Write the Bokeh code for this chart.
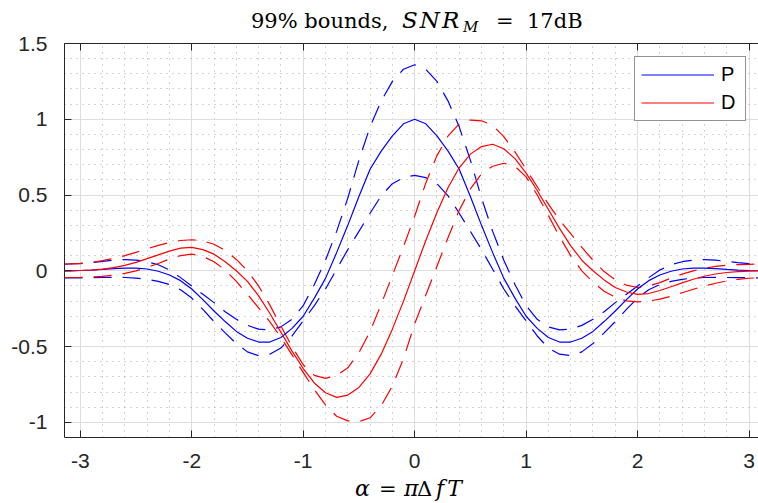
from bokeh.plotting import figure
from bokeh.models import Range1d, FixedTicker, LinearAxis, Legend, LegendItem, Div
from bokeh.layouts import column
from bokeh.embed import file_html
from bokeh.resources import INLINE

# ---- data ----
alpha = [-3.14, -3.1, -3.0, -2.9, -2.8, -2.7, -2.6, -2.5, -2.4, -2.3, -2.2, -2.1, -2.0,
         -1.9, -1.8, -1.7, -1.6, -1.5, -1.4, -1.3, -1.2, -1.1, -1.0, -0.9, -0.8, -0.7,
         -0.6, -0.5, -0.4, -0.3, -0.2, -0.1, 0.0, 0.1, 0.2, 0.3, 0.4, 0.5, 0.6, 0.7,
         0.8, 0.9, 1.0, 1.1, 1.2, 1.3, 1.4, 1.5, 1.6, 1.7, 1.8, 1.9, 2.0, 2.1, 2.2,
         2.3, 2.4, 2.5, 2.6, 2.7, 2.8, 2.9, 3.0, 3.1, 3.14]

P = [0.0, 0.0, 0.002, 0.005, 0.009, 0.014, 0.018, 0.018, 0.012, -0.003, -0.028, -0.065, -0.12,
     -0.19, -0.265, -0.335, -0.40, -0.445, -0.47, -0.47, -0.44, -0.38, -0.30, -0.18, -0.05, 0.12,
     0.30, 0.49, 0.67, 0.79, 0.89, 0.97, 1.00, 0.97, 0.89, 0.79, 0.67, 0.49, 0.30, 0.12,
     -0.05, -0.18, -0.30, -0.38, -0.44, -0.47, -0.47, -0.445, -0.40, -0.335, -0.265, -0.19, -0.12, -0.065, -0.028,
     -0.003, 0.012, 0.018, 0.018, 0.014, 0.009, 0.005, 0.002, 0.0, 0.0]

P_upper = [0.044, 0.045, 0.048, 0.054, 0.062, 0.07, 0.074, 0.071, 0.06, 0.04, 0.005, -0.045, -0.10,
           -0.155, -0.21, -0.27, -0.32, -0.36, -0.385, -0.39, -0.37, -0.32, -0.23, -0.09, 0.07, 0.26,
           0.48, 0.73, 0.95, 1.12, 1.25, 1.33, 1.36, 1.33, 1.25, 1.12, 0.95, 0.73, 0.48, 0.26,
           0.07, -0.09, -0.23, -0.32, -0.37, -0.39, -0.385, -0.36, -0.32, -0.27, -0.21, -0.155, -0.10, -0.045, 0.005,
           0.04, 0.06, 0.071, 0.074, 0.07, 0.062, 0.054, 0.048, 0.045, 0.044]

P_lower = [-0.046, -0.046, -0.046, -0.045, -0.044, -0.043, -0.044, -0.048, -0.056, -0.07, -0.09, -0.125, -0.18,
           -0.255, -0.335, -0.41, -0.48, -0.535, -0.56, -0.55, -0.51, -0.43, -0.33, -0.23, -0.12, 0.01,
           0.14, 0.26, 0.38, 0.495, 0.575, 0.615, 0.63, 0.615, 0.575, 0.495, 0.38, 0.26, 0.14, 0.01,
           -0.12, -0.23, -0.33, -0.43, -0.51, -0.55, -0.56, -0.535, -0.48, -0.41, -0.335, -0.255, -0.18, -0.125, -0.09,
           -0.07, -0.056, -0.048, -0.044, -0.043, -0.044, -0.045, -0.046, -0.046, -0.046]

D = [0.0, 0.0, 0.002, 0.005, 0.011, 0.021, 0.036, 0.056, 0.08, 0.105, 0.13, 0.15, 0.155,
     0.14, 0.11, 0.06, 0.0, -0.07, -0.165, -0.28, -0.405, -0.53, -0.645, -0.74, -0.805, -0.835,
     -0.82, -0.77, -0.68, -0.55, -0.385, -0.20, 0.0, 0.20, 0.385, 0.55, 0.68, 0.77, 0.82, 0.835,
     0.805, 0.74, 0.645, 0.53, 0.405, 0.28, 0.165, 0.07, 0.0, -0.06, -0.11, -0.14, -0.155, -0.15, -0.13,
     -0.105, -0.08, -0.056, -0.036, -0.021, -0.011, -0.005, -0.002, 0.0, 0.0]

D_upper = [0.045, 0.046, 0.049, 0.056, 0.067, 0.082, 0.10, 0.122, 0.145, 0.168, 0.187, 0.20, 0.205,
           0.198, 0.175, 0.135, 0.075, 0.0, -0.10, -0.225, -0.365, -0.50, -0.62, -0.69, -0.71, -0.69,
           -0.64, -0.54, -0.40, -0.22, -0.03, 0.16, 0.36, 0.58, 0.76, 0.89, 0.97, 0.995, 0.99, 0.96,
           0.885, 0.785, 0.67, 0.555, 0.44, 0.335, 0.245, 0.155, 0.07, -0.005, -0.06, -0.095, -0.11, -0.10, -0.078,
           -0.048, -0.022, 0.0, 0.017, 0.029, 0.037, 0.041, 0.043, 0.044, 0.044]

D_lower = [-0.044, -0.044, -0.043, -0.041, -0.037, -0.029, -0.017, 0.0, 0.022, 0.048, 0.078, 0.10, 0.11,
           0.095, 0.06, 0.005, -0.07, -0.155, -0.245, -0.335, -0.44, -0.555, -0.67, -0.785, -0.885, -0.96,
           -0.99, -0.995, -0.97, -0.89, -0.76, -0.58, -0.35, -0.16, 0.03, 0.22, 0.40, 0.54, 0.64, 0.69,
           0.71, 0.69, 0.62, 0.50, 0.365, 0.225, 0.10, 0.0, -0.075, -0.135, -0.175, -0.198, -0.205, -0.20, -0.187,
           -0.168, -0.145, -0.122, -0.10, -0.082, -0.067, -0.056, -0.049, -0.046, -0.045]

x_ticks = [-3, -2, -1, 0, 1, 2, 3]
x_tick_labels = ["-3", "-2", "-1", "0", "1", "2", "3"]
y_ticks = [-1, -0.5, 0, 0.5, 1, 1.5]
y_tick_labels = ["-1", "-0.5", "0", "0.5", "1", "1.5"]
x_minor = [-2.8, -2.6, -2.4, -2.2, -1.8, -1.6, -1.4, -1.2, -0.8, -0.6, -0.4, -0.2,
           0.2, 0.4, 0.6, 0.8, 1.2, 1.4, 1.6, 1.8, 2.2, 2.4, 2.6, 2.8]
y_minor = [-0.9, -0.8, -0.7, -0.6, -0.4, -0.3, -0.2, -0.1, 0.1, 0.2, 0.3, 0.4,
           0.6, 0.7, 0.8, 0.9, 1.1, 1.2, 1.3, 1.4]

# ---- layout (pixels) ----
W = 758
HT = 30            # title strip (title overflows into the transparent figure border)
HX = 27            # x-label strip
HP = 503 - HT - HX # figure height
FL = 64
FTOP = 43 - HT     # frame top inside figure
FB = 437 - HT      # frame bottom inside figure
X0, X1 = -3.14159, 3.085
Y0, Y1 = -1.1, 1.5

p = figure(width=W, height=HP, x_range=Range1d(X0, X1), y_range=Range1d(Y0, Y1),
           output_backend="svg", toolbar_location=None,
           min_border_left=FL, min_border_right=0, min_border_top=FTOP, min_border_bottom=HP - FB)
p.outline_line_color = None
p.background_fill_color = "white"
p.border_fill_alpha = 0

AX = "#262626"
TICK_FONT = "Liberation Sans"

xt = FixedTicker(ticks=x_ticks, minor_ticks=x_minor)
yt = FixedTicker(ticks=y_ticks, minor_ticks=y_minor)

xa = p.xaxis[0]
ya = p.yaxis[0]
xa.ticker = xt
ya.ticker = yt
xa.major_label_overrides = {t: s for t, s in zip(x_ticks, x_tick_labels)}
ya.major_label_overrides = {t: s for t, s in zip(y_ticks, y_tick_labels)}

top = LinearAxis(ticker=FixedTicker(ticks=x_ticks))
top.major_label_text_color = None
top.major_label_standoff = 0
p.add_layout(top, "above")

for ax in (xa, ya, top):
    ax.major_tick_in = 7
    ax.major_tick_out = 0
    ax.minor_tick_line_color = None
    ax.axis_line_color = AX
    ax.axis_line_width = 1
    ax.major_tick_line_color = AX
    ax.major_label_text_font = TICK_FONT
for ax in (xa, ya):
    ax.major_label_text_color = AX
    ax.major_label_text_font_size = "21px"
xa.major_label_standoff = 12
ya.major_label_standoff = 13

p.xgrid.ticker = xt
p.ygrid.ticker = yt
for g in (p.xgrid[0], p.ygrid[0]):
    g.grid_line_color = "#dedede"
    g.grid_line_width = 1
    g.minor_grid_line_color = "#a9a9a9"
    g.minor_grid_line_dash = "1 5"
    g.minor_grid_line_width = 1

BLUE = "#0000ff"
RED = "#ff0000"
LW = 1.2
DASH = "18 11"

p.line(alpha, P_upper, color=BLUE, line_width=LW, line_dash=DASH)
p.line(alpha, P_lower, color=BLUE, line_width=LW, line_dash=DASH)
p.line(alpha, D_upper, color=RED, line_width=LW, line_dash=DASH)
p.line(alpha, D_lower, color=RED, line_width=LW, line_dash=DASH)
rP = p.line(alpha, P, color=BLUE, line_width=LW)
rD = p.line(alpha, D, color=RED, line_width=LW)

legend = Legend(items=[LegendItem(label="P", renderers=[rP]), LegendItem(label="D", renderers=[rD])],
                location=(634 - FL, 437 - 121))
legend.border_line_color = AX
legend.border_line_width = 1
legend.background_fill_color = "white"
legend.background_fill_alpha = 1
legend.label_text_font = TICK_FONT
legend.label_text_font_size = "20px"
legend.label_text_color = "black"
legend.glyph_width = 73
legend.glyph_height = 21
legend.label_height = 21
legend.label_width = 18
legend.label_standoff = 7
legend.padding = 6
legend.spacing = 5
legend.margin = 0
p.add_layout(legend)

SERIF = "'DejaVu Serif', 'Liberation Serif', serif"

def span(text, left, baseline, size, italic=False, extra=""):
    top_px = baseline - 0.846 * size
    st = "font-style:italic;" if italic else ""
    return ('<span style="position:absolute;left:%.1fpx;top:%.1fpx;font-size:%dpx;line-height:1;'
            'white-space:nowrap;%s%s">%s</span>' % (left, top_px, size, st, extra, text))

def strip(height, pieces):
    return ('<div style="position:relative;width:%dpx;height:%dpx;overflow:visible;'
            'font-family:%s;color:#000;">%s</div>' % (W, height, SERIF, "".join(pieces)))

title_html = strip(HT, [
    span("99% bounds,", 251, 28.5, 21),
    span("SNR", 402, 28.5, 23, True, "letter-spacing:2px;"),
    span("M", 463, 33, 15, True),
    span("=", 496, 28.5, 21),
    span("17dB", 527, 28.5, 21),
])
xlabel_html = strip(HX, [
    span("α", 355, 21, 22, True),
    span("=", 379, 21, 21),
    span("π", 404, 21, 22, True),
    span("Δ", 417, 21, 21),
    span("fT", 436, 21, 22, True, "letter-spacing:3px;"),
])

title_div = Div(text=title_html, width=W, height=HT, margin=0, styles={"overflow": "visible", "z-index": "2"})
xlabel_div = Div(text=xlabel_html, width=W, height=HX, margin=0)

layout = column(title_div, p, xlabel_div, spacing=0)
open("out.html", "w").write(file_html(layout, INLINE))
